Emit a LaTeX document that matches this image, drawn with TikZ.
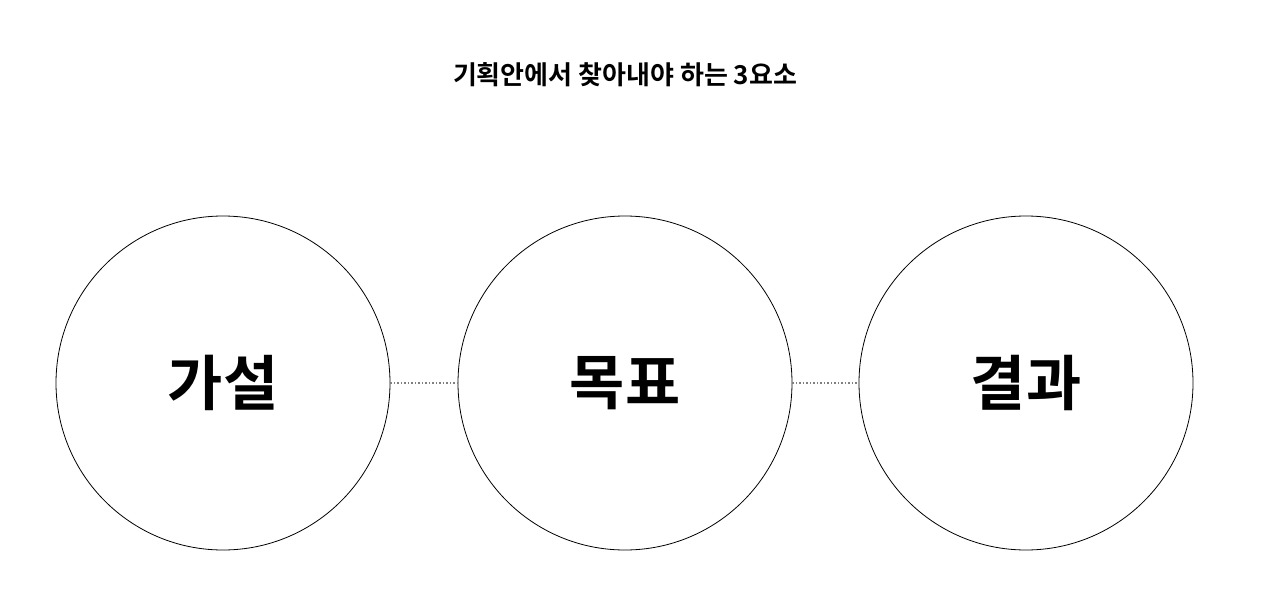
\documentclass[tikz,border=0pt]{standalone}
\usepackage{fontspec}
\newfontfamily\kr{Noto Sans CJK KR}[BoldFont={* Bold}]
\begin{document}
\begin{tikzpicture}[x=1pt,y=-1pt,
  circ/.style={circle,draw,line width=0.8pt,minimum size=334pt,inner sep=0pt,font=\kr\bfseries\fontsize{60}{60}\selectfont},
  link/.style={draw=gray,dotted,line width=1.5pt}]
\useasboundingbox (0,0) rectangle (1280,602);
\node[font=\kr\bfseries\fontsize{26}{26}\selectfont] (t) at (625,75) {기획안에서 찾아내야 하는 3요소};
\node[circ] (a) at (223,383) {가설};
\node[circ] (b) at (625,383) {목표};
\node[circ] (c) at (1026,383) {결과};
\draw[link] (a) -- (b);
\draw[link] (b) -- (c);
\end{tikzpicture}
\end{document}
